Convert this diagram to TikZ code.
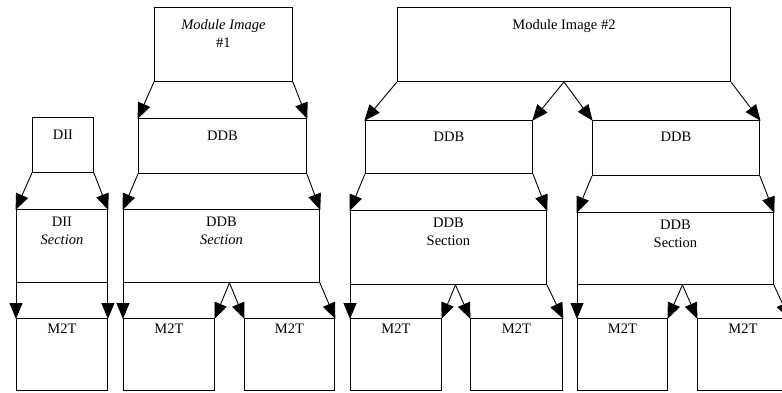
\documentclass[tikz,border=0pt]{standalone}
\usepackage{fontspec}
\setmainfont{Liberation Serif}
\usetikzlibrary{arrows.meta}
\begin{document}
\begin{tikzpicture}[x=1pt, y=-1pt,
    blk/.style={draw, line width=0.9pt, inner sep=0pt, anchor=north west},
    tag/.style={inner sep=0pt, align=center, anchor=north, font=\fontsize{14.5}{18}\selectfont},
    arr/.style={line width=0.9pt, -{Triangle[length=16pt, width=13pt]}, shorten >=-1pt}]
  \useasboundingbox (0,0) rectangle (782,392);

  % top row
  \node[blk, minimum width=138pt, minimum height=74pt,
    label={[tag, yshift=-12pt]north:\textit{Module Image}\\\#1}] (mi1) at (154,7) {};
  \node[blk, minimum width=333pt, minimum height=74pt,
    label={[tag, yshift=-12pt]north:Module Image \#2}] (mi2) at (397,7) {};

  % DII and DDB
  \node[blk, minimum width=61pt, minimum height=55pt,
    label={[tag, yshift=-13pt]north:DII}] (dii) at (32,117) {};
  \node[blk, minimum width=168pt, minimum height=55pt,
    label={[tag, yshift=-13pt]north:DDB}] (ddb1) at (138,118) {};
  \node[blk, minimum width=167pt, minimum height=53pt,
    label={[tag, yshift=-12pt]north:DDB}] (ddb2) at (365,120) {};
  \node[blk, minimum width=167pt, minimum height=55pt,
    label={[tag, yshift=-12pt]north:DDB}] (ddb3) at (592,120) {};

  % sections
  \node[blk, minimum width=91pt, minimum height=73pt,
    label={[tag, yshift=-8pt]north:DII\\\textit{Section}}] (diis) at (16,209) {};
  \node[blk, minimum width=196pt, minimum height=73pt,
    label={[tag, yshift=-8pt]north:DDB\\\textit{Section}}] (ddbs1) at (123,209) {};
  \node[blk, minimum width=196pt, minimum height=74pt,
    label={[tag, yshift=-8pt]north:DDB\\Section}] (ddbs2) at (350,210) {};
  \node[blk, minimum width=196pt, minimum height=72pt,
    label={[tag, yshift=-8pt]north:DDB\\Section}] (ddbs3) at (577,212) {};

  % M2T row
  \foreach \n/\x/\w in {a/16/91, b/123/91, c/244/90, d/350/91, e/470/92, f/577/90, g/697/91} {
    \node[blk, minimum width=\w pt, minimum height=72pt,
      label={[tag, yshift=-6pt]north:M2T}] (m\n) at (\x,318) {};
  }

  % arrows
  \draw[arr] (mi1.south west) -- (ddb1.north west);
  \draw[arr] (mi1.south east) -- (ddb1.north east);
  \draw[arr] (mi2.south west) -- (ddb2.north west);
  \draw[arr] (mi2.south) -- (ddb2.north east);
  \draw[arr] (mi2.south) -- (ddb3.north west);
  \draw[arr] (mi2.south east) -- (ddb3.north east);

  \draw[arr] (dii.south west) -- (diis.north west);
  \draw[arr] (dii.south east) -- (diis.north east);
  \draw[arr] (ddb1.south west) -- (ddbs1.north west);
  \draw[arr] (ddb1.south east) -- (ddbs1.north east);
  \draw[arr] (ddb2.south west) -- (ddbs2.north west);
  \draw[arr] (ddb2.south east) -- (ddbs2.north east);
  \draw[arr] (ddb3.south west) -- (ddbs3.north west);
  \draw[arr] (ddb3.south east) -- (ddbs3.north east);

  \draw[arr] (diis.south west) -- (ma.north west);
  \draw[arr] (diis.south east) -- (ma.north east);
  \draw[arr] (ddbs1.south west) -- (mb.north west);
  \draw[arr] ([xshift=8pt]ddbs1.south) -- (mb.north east);
  \draw[arr] ([xshift=8pt]ddbs1.south) -- (mc.north west);
  \draw[arr] (ddbs1.south east) -- (mc.north east);
  \draw[arr] (ddbs2.south west) -- (md.north west);
  \draw[arr] ([xshift=7pt]ddbs2.south) -- (md.north east);
  \draw[arr] ([xshift=7pt]ddbs2.south) -- (me.north west);
  \draw[arr] (ddbs2.south east) -- (me.north east);
  \draw[arr] (ddbs3.south west) -- (mf.north west);
  \draw[arr] ([xshift=7pt]ddbs3.south) -- (mf.north east);
  \draw[arr] ([xshift=7pt]ddbs3.south) -- (mg.north west);
  \draw[arr] (ddbs3.south east) -- (mg.north east);
\end{tikzpicture}
\end{document}
